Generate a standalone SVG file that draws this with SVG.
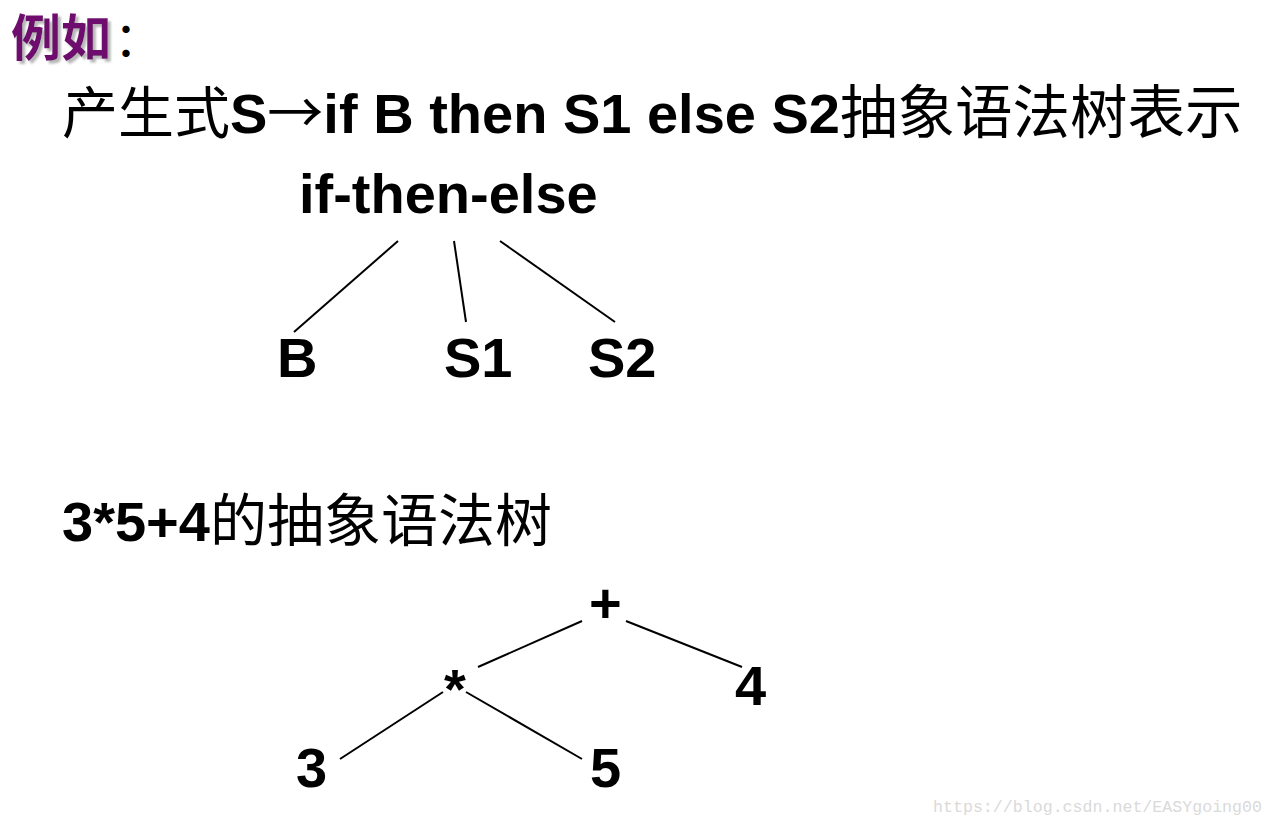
<svg xmlns="http://www.w3.org/2000/svg" width="1274" height="828" viewBox="0 0 1274 828">
<defs>
<filter id="shadow" x="-10%" y="-10%" width="130%" height="130%">
<feDropShadow dx="3" dy="3" stdDeviation="1.2" flood-color="#999999" flood-opacity="0.7"/>
</filter>
</defs>
<style>
.cjk{font-family:"Noto Sans CJK SC",sans-serif;font-weight:400}
.lat{font-family:"Liberation Sans",Arial,"Noto Sans CJK SC",sans-serif;font-weight:700}
.node{font-family:"Liberation Sans",Arial,sans-serif;font-weight:700;font-size:56px;fill:#000}
.edge{stroke:#000;stroke-width:2;fill:none}
.title{font-family:"Noto Sans CJK SC",serif;font-size:50px;font-weight:700}
.wm{font-family:"Liberation Mono",monospace;font-size:16.6px;fill:#dadada}
</style>
<rect width="1274" height="828" fill="#fff"/>
<g id="heading">
<text class="title" x="11" y="56" fill="#6e0d6e" filter="url(#shadow)">例如</text>
<text class="cjk" x="114" y="56" font-size="48" font-weight="700" fill="#000">：</text>
</g>
<g id="line1">
<text x="62" y="133" font-size="56"><tspan class="cjk">产生式</tspan><tspan class="lat">S</tspan><tspan class="cjk">→</tspan><tspan class="lat">if B then S1 else S2</tspan><tspan class="cjk" font-size="57.5">抽象语法树表示</tspan></text>
</g>
<g id="connectors">
<line class="edge" x1="398" y1="241" x2="294" y2="332"/>
<line class="edge" x1="454" y1="241" x2="466" y2="322"/>
<line class="edge" x1="500" y1="241" x2="615" y2="322"/>
<line class="edge" x1="582" y1="621" x2="478" y2="667"/>
<line class="edge" x1="626" y1="621" x2="742" y2="667"/>
<line class="edge" x1="443" y1="692" x2="340" y2="759"/>
<line class="edge" x1="466" y1="692" x2="582" y2="759"/>
</g>
<g id="n-ifthenelse"><text class="node" x="299" y="213">if-then-else</text></g>
<g id="n-B"><text class="node" x="277" y="377">B</text></g>
<g id="n-S1"><text class="node" x="444" y="377">S1</text></g>
<g id="n-S2"><text class="node" x="588" y="377">S2</text></g>
<g id="line3">
<text x="62" y="541" font-size="56"><tspan class="lat">3*5+4</tspan><tspan class="cjk" font-size="57">的抽象语法树</tspan></text>
</g>
<g id="n-plus"><text class="node" x="589" y="622">+</text></g>
<g id="n-times"><text class="node" x="444" y="708">*</text></g>
<g id="n-4"><text class="node" x="735" y="705">4</text></g>
<g id="n-3"><text class="node" x="296" y="787">3</text></g>
<g id="n-5"><text class="node" x="590" y="787">5</text></g>
<text class="wm" x="933" y="812" textLength="329">https://blog.csdn.net/EASYgoing00</text>
</svg>
